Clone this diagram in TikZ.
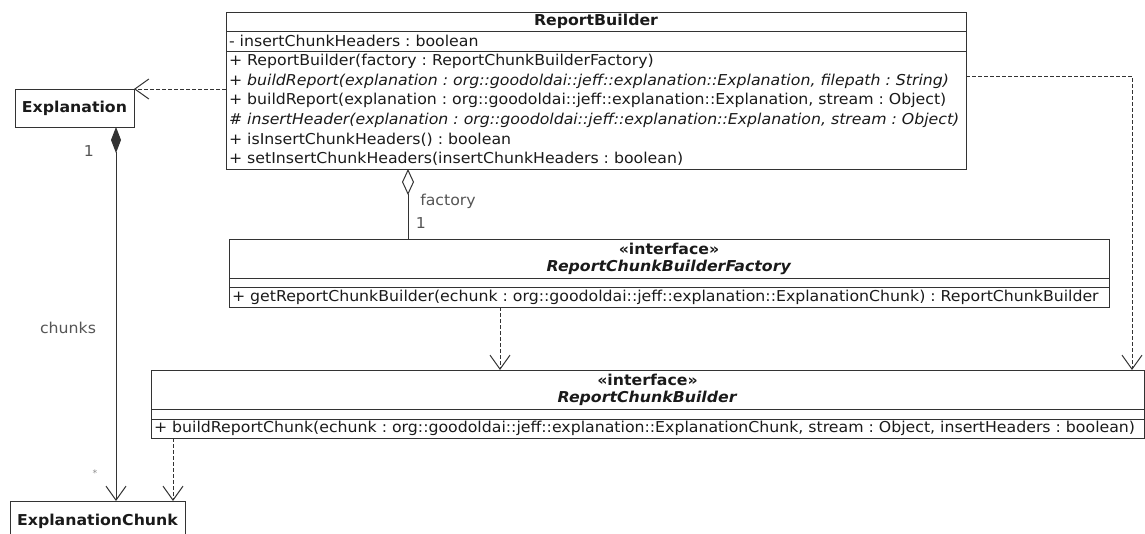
\documentclass[tikz,border=0pt]{standalone}
\usepackage{fontspec}
\setmainfont{DejaVu Sans}[FakeStretch=1.05]
\usetikzlibrary{arrows.meta}
\definecolor{umlline}{HTML}{333333}
\definecolor{umltext}{HTML}{1A1A1A}
\definecolor{umllabel}{HTML}{555555}
\definecolor{umlstar}{HTML}{8A8A8A}
\newcommand\umlfont{\fontsize{15}{19.6}\selectfont}
\frenchspacing

\begin{document}
\begin{tikzpicture}[x=1pt,y=-1pt,
  font=\umlfont,
  cls/.style={draw=umlline,line width=1pt,text=umltext,inner sep=0pt,outer sep=0pt,anchor=north west},
  clshead/.style={cls,text width=#1,inner xsep=3pt,align=center,font=\fontsize{15}{17}\selectfont\bfseries},
  members/.style={cls,text width=#1,inner xsep=3pt,align=left},
  lbl/.style={text=umllabel,inner sep=0pt},
  dep/.style={umlline,line width=1pt,dash pattern=on 4pt off 2pt,-{Straight Barb[length=14pt,width=20pt]}},
  assoc/.style={umlline,line width=1pt}]
\useasboundingbox (0,0) rectangle (1145,533);

% ReportBuilder
\node[clshead=734pt,minimum height=19] (rb) at (226,12) {ReportBuilder};
\node[members=734pt,minimum height=20] (rbattr) at (rb.south west) {- insertChunkHeaders : boolean};
\node[members=734pt,minimum height=118] (rbops) at (rbattr.south west) {\mbox{+ ReportBuilder(factory : ReportChunkBuilderFactory)}\\
  \mbox{+ \textit{buildReport(explanation : org::goodoldai::jeff::explanation::Explanation, filepath : String)}}\\
  \mbox{+ buildReport(explanation : org::goodoldai::jeff::explanation::Explanation, stream : Object)}\\
  \mbox{\textit{\# insertHeader(explanation : org::goodoldai::jeff::explanation::Explanation, stream : Object)}}\\
  \mbox{+ isInsertChunkHeaders() : boolean}\\
  \mbox{+ setInsertChunkHeaders(insertChunkHeaders : boolean)}};

% ReportChunkBuilderFactory
\node[clshead=874pt,minimum height=39] (rcbf) at (229,239) {«interface»\\\textit{ReportChunkBuilderFactory}};
\node[members=874pt,minimum height=9] (rcbfattr) at (rcbf.south west) {};
\node[members=874pt,minimum height=20] (rcbfops) at (rcbfattr.south west) {\mbox{+ getReportChunkBuilder(echunk : org::goodoldai::jeff::explanation::ExplanationChunk) : ReportChunkBuilder}};

% ReportChunkBuilder
\node[clshead=987pt,minimum height=39] (rcb) at (151,370) {«interface»\\\textit{ReportChunkBuilder}};
\node[members=987pt,minimum height=10] (rcbattr) at (rcb.south west) {};
\node[members=987pt,minimum height=19] (rcbops) at (rcbattr.south west) {\mbox{+ buildReportChunk(echunk : org::goodoldai::jeff::explanation::ExplanationChunk, stream : Object, insertHeaders : boolean)}};

% Explanation, ExplanationChunk
\node[cls,minimum width=119,minimum height=38,font=\umlfont\bfseries] (expl) at (15,89) {Explanation};
\node[cls,minimum width=175,minimum height=40,font=\umlfont\bfseries] (echunk) at (10,501) {ExplanationChunk};

% dependencies
\draw[dep] (rbops.west |- expl.north east) -- (expl.north east);
\draw[dep] ([yshift=-25pt]rbops.north east) -| ([xshift=-12pt]rcb.north east);
\coordinate (d1) at ([xshift=271pt]rcbfops.south west);
\draw[dep] (d1) -- (d1 |- rcb.north);
\coordinate (d2) at ([xshift=22pt]rcbops.south west);
\draw[dep] (d2) -- (d2 |- echunk.north);

% composition and aggregation
\coordinate (c1) at ([xshift=101pt]expl.south west);
\draw[assoc,{Diamond[length=26pt,width=10pt]}-{Straight Barb[length=14pt,width=20pt]}] (c1) -- (c1 |- echunk.north);
\coordinate (a1) at ([xshift=182pt]rbops.south west);
\draw[assoc,{Diamond[open,length=26pt,width=12pt]}-] (a1) -- (a1 |- rcbf.north);

% role names and multiplicities
\node[lbl] (multexpl) at (89,151) {1};
\node[lbl] (rolechunks) at (68,328) {chunks};
\node[lbl,text=umlstar,font=\fontsize{9}{9}\selectfont] (multchunks) at (95,473) {*};
\node[lbl] (rolefactory) at (448,201) {factory};
\node[lbl] (multfactory) at (421,223) {1};
\end{tikzpicture}
\end{document}
